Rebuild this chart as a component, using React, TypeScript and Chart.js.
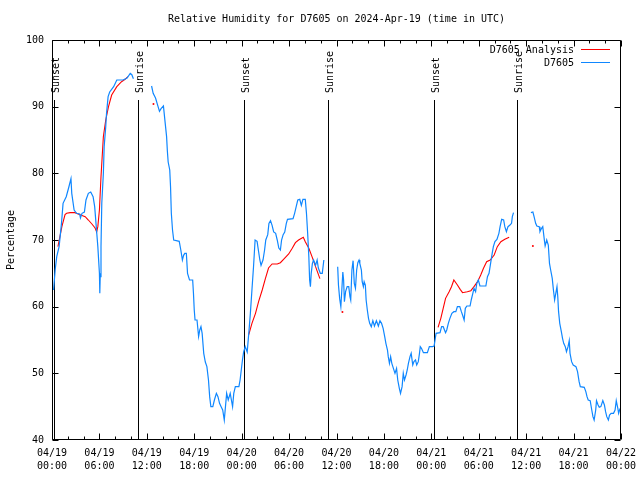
import React, { useEffect, useRef } from "react";
import { Chart, registerables } from "chart.js";

Chart.register(...registerables);

const chartTitle = "Relative Humidity for D7605 on 2024-Apr-19 (time in UTC)";
const yAxisTitle = "Percentage";
const obsLabel = "D7605";
const anaLabel = "D7605 Analysis";

// hours since 04/19 00:00 UTC
const obsHours = [
  0.2, 0.4, 0.6, 0.9, 1.2, 1.4, 1.8, 2.1, 2.4, 2.5, 2.8, 3.1, 3.5, 3.6, 3.8, 4.1, 4.3, 4.6, 4.9, 5.2,
  5.4, 5.6, 5.8, 6.0, 6.05, 6.1, 6.2, 6.3, 6.5, 6.6, 6.8, 6.9, 7.1, 7.3, 7.8, 8.2, 8.6, 9.0, 9.5, 9.9,
  10.1, 10.3,
  11.5,
  12.6, 12.8, 13.1, 13.3, 13.6, 13.8, 14.1, 14.3, 14.5, 14.6,
  14.7, 14.9, 15.0, 15.1, 15.25, 15.4, 16.1, 16.3, 16.5, 16.65,
  16.8, 17.0, 17.15, 17.4, 17.8, 17.9, 18.0, 18.1, 18.35, 18.55,
  18.7, 18.85, 19.0, 19.2, 19.4, 19.6, 19.8, 19.95, 20.1, 20.35,
  20.55, 20.8, 21.0, 21.2, 21.4, 21.6, 21.8, 21.95, 22.1, 22.3,
  22.55, 22.7, 22.85, 23.0, 23.2, 23.65, 23.8, 23.95, 24.1, 24.25,
  24.45, 24.7, 24.9, 25.1, 25.3, 25.5, 25.7, 25.95, 26.15, 26.3,
  26.45, 26.7, 26.9, 27.05, 27.3, 27.45, 27.65, 27.85, 28.05, 28.3,
  28.5, 28.7, 28.9, 29.05, 29.25, 29.45, 29.65, 29.8, 30.5, 30.7,
  30.9, 31.1, 31.35, 31.55, 31.75, 32.05, 32.2, 32.35, 32.5, 32.6,
  32.7, 32.8, 32.95, 33.1, 33.35, 33.55, 33.7, 33.95, 34.2, 34.4,
  35.3,
  36.15, 36.25, 36.4, 36.55, 36.65, 36.8, 36.9, 37.0, 37.15, 37.35,
  37.55, 37.7, 37.8, 37.95, 38.1, 38.25, 38.4, 38.55, 38.7, 38.85,
  38.95, 39.15, 39.25, 39.4, 39.5, 39.65, 39.75, 39.9, 40.05, 40.2,
  40.4, 40.6, 40.8, 41.05, 41.3, 41.5, 41.7, 41.9, 42.1, 42.25,
  42.45, 42.55, 42.7, 42.85, 43.0, 43.2, 43.4, 43.6, 43.75, 43.95,
  44.1, 44.3, 44.45, 44.6, 44.8, 44.95, 45.1, 45.3, 45.45, 45.65,
  45.8, 46.0, 46.15, 46.35, 46.5, 46.6, 46.75, 47.0, 47.5, 47.75,
  48.15, 48.35, 48.5, 48.6, 49.1, 49.3, 49.5, 49.8, 49.95, 50.15,
  50.35, 50.6, 50.85, 51.1, 51.3, 51.6, 51.8, 51.95, 52.15, 52.3,
  52.5, 52.9, 53.05, 53.25, 53.4, 53.6, 53.75, 53.95, 54.15, 54.9,
  55.1, 55.3, 55.5, 55.7, 55.85, 56.05, 56.3, 56.55, 56.7, 56.9,
  57.15, 57.3, 57.5, 57.7, 57.95, 58.15, 58.25, 58.4,
  59.5,
  60.6, 60.85, 61.0, 61.2, 61.35, 61.65, 61.75, 61.95, 62.1, 62.3,
  62.4, 62.6, 62.8, 62.95, 63.1, 63.3, 63.45, 63.6, 63.75, 63.9,
  64.0, 64.1, 64.25, 64.45, 64.6, 64.75, 64.95, 65.1, 65.3, 65.45,
  65.55, 65.75, 65.95, 66.3, 66.5, 66.7, 66.85, 67.35, 67.55, 67.7,
  67.85, 68.1, 68.3, 68.45, 68.6, 68.8, 68.9, 69.1, 69.25, 69.45,
  69.7, 69.9, 70.05, 70.2, 70.4, 70.55, 70.75, 71.05, 71.25, 71.4,
  71.6, 71.7, 71.85, 72.0,
];

const obsValues: (number | null)[] = [
  62.5, 65.5, 67.5, 69, 72.5, 75.5, 76.5, 77.8, 79.2, 77, 74.5, 74, 73.9, 73.3, 74, 74.2, 76, 77, 77.2, 76.5,
  75, 72, 69, 65, 62, 64.5, 69, 75.5, 80, 84, 87, 89, 91.5, 92.2, 93, 94, 94, 94, 94.3, 95,
  94.8, 94.2,
  null,
  93.1, 92, 91.3, 90.5, 89.3, 89.7, 90.1, 87.8, 85.5, 83.3,
  81.7, 80.5, 78, 74, 71.5, 70, 69.8, 68.5, 67, 67.7,
  68, 68, 65, 64, 64, 62, 59.5, 58, 58, 55.5,
  56.5, 57, 56, 53, 51.7, 51, 49, 46.5, 45, 45,
  46, 47, 46.5, 45.5, 45, 44.5, 43, 45, 47, 46,
  47, 46, 45, 47, 48, 48, 49, 50.5, 52, 53.2,
  54, 53.2, 56, 59, 62.5, 66, 70, 69.8, 68.2, 67,
  66.2, 67, 68.5, 70, 70.8, 72.5, 72.9, 72.2, 71.2, 71,
  70, 68.8, 68.5, 70, 70.8, 71.2, 72.5, 73.1, 73.2, 74,
  75, 76, 76.1, 75.2, 76.1, 76.1, 74, 71, 67.5, 64,
  63, 65, 66.5, 67, 66.2, 67, 65.8, 65, 65, 67,
  null,
  66, 63.2, 61.2, 60, 62, 65.2, 64, 60.75, 62.25, 63,
  63, 61.5, 61, 65.5, 66.9, 63.5, 62.75, 65.5, 66.6, 67,
  66.5, 65.5, 63.75, 63, 63.75, 63.25, 61, 59.5, 58.25, 57.5,
  57, 57.9, 57.1, 57.9, 57.1, 57.9, 57.5, 56.75, 55.5, 54.5,
  53.5, 52.5, 51.5, 52.5, 51.5, 50.75, 50, 50.75, 49, 47.75,
  47, 48, 50, 49, 49.75, 50.5, 51.5, 52.5, 53, 51.25,
  51.75, 52, 51.25, 51.75, 53, 54, 53.75, 53.1, 53.1, 54,
  54, 54.1, 55.25, 56, 56.1, 57, 57, 56.1, 56.5, 57.5,
  58.25, 59, 59.25, 59.25, 60, 60, 59.25, 58.75, 58, 59.75,
  60.1, 60.1, 61, 62, 62.75, 62.25, 63.5, 64, 63.1, 63.1,
  64.5, 65, 66.5, 68, 69, 69.75, 70.1, 71, 72, 73.1,
  73, 72, 71.25, 72, 72.25, 72.5, 73.5, 74.1,
  null,
  74.1, 74.2, 73.5, 72.5, 72.1, 72, 71.25, 71.75, 72, 70,
  69.1, 70, 69.25, 66.5, 65.5, 64.25, 62.5, 61, 62, 63,
  61.5, 59.25, 57.5, 56.25, 55.25, 54.5, 54, 53.25, 54, 54.9,
  53, 51.75, 51.25, 51, 50.25, 48.75, 48, 47.9, 47.25, 46.5,
  46, 45.9, 44.5, 43.5, 43, 44.5, 45.9, 45.25, 44.9, 45,
  45.9, 45.25, 44.25, 43.5, 43, 43.75, 44, 44, 44.5, 45.9,
  44.75, 44, 44.6, 44.9,
];

const anaHours = [
  0.75, 1.25, 1.65, 1.85, 2.3, 2.9, 3.55, 4.2, 4.6, 5.05, 5.45, 5.65, 5.8, 6.0, 6.2, 6.5, 6.8, 7.15,
  7.55, 8.2, 8.8, 9.25, 9.6,
  11.0, 12.84, 14.0,
  24.9, 25.3, 25.75, 26.15, 26.6, 27.0, 27.4, 27.85, 28.5, 28.9, 29.3, 29.95, 30.4, 30.8, 31.2, 31.8,
  32.05, 32.5, 32.9, 33.35, 33.9,
  35.5, 36.75, 38.0,
  48.85, 49.2, 49.5, 49.8, 50.25, 50.55, 50.85, 51.3, 51.65, 51.95, 52.55, 53.0, 53.4, 53.85, 54.25,
  54.6, 55.0, 55.45, 55.95, 56.35, 56.8, 57.3, 57.85,
  59.5, 60.85,
];

const anaValues: (number | null)[] = [
  69, 72, 73.8, 74, 74.1, 74.1, 73.8, 73.5, 73, 72.4, 71.8, 71.2, 72, 74.5, 79.5, 85.5, 88, 90,
  91.75, 93, 93.75, 94.1, 94.5,
  null, 90.4, null,
  55.8, 57.5, 59, 60.8, 62.5, 64.2, 65.8, 66.4, 66.4, 66.6, 67.1, 67.9, 68.75, 69.6, 70, 70.4,
  69.75, 68.75, 67.5, 66, 64.2,
  null, 59.2, null,
  56.9, 58.25, 59.75, 61.25, 62.25, 63, 64, 63.25, 62.6, 62.1, 62.25, 62.4, 63, 63.75, 64.75,
  65.75, 66.75, 67, 67.75, 69, 69.75, 70.1, 70.4,
  null, 69.1,
];

const sunHours = [0.19, 10.87, 24.29, 34.93, 48.36, 58.87];
const sunLabels = ["Sunset", "Sunrise", "Sunset", "Sunrise", "Sunset", "Sunrise"];

const xTickHours = [0, 6, 12, 18, 24, 30, 36, 42, 48, 54, 60, 66, 72];
const xTickLabels = [
  "04/19\n00:00", "04/19\n06:00", "04/19\n12:00", "04/19\n18:00",
  "04/20\n00:00", "04/20\n06:00", "04/20\n12:00", "04/20\n18:00",
  "04/21\n00:00", "04/21\n06:00", "04/21\n12:00", "04/21\n18:00",
  "04/22\n00:00",
];

const FONT = '"DejaVu Sans Mono", "Liberation Mono", monospace';
const RED = "#ff0000";
const BLUE = "#0f87ff";

export default function App() {
  const ref = useRef<HTMLCanvasElement>(null);

  useEffect(() => {
    const canvas = ref.current;
    if (!canvas) return;
    const obsData = obsHours.map((h, i) => ({ x: h, y: obsValues[i] }));
    const anaData = anaHours.map((h, i) => ({ x: h, y: anaValues[i] }));

    const isolated = (ctx: any) => {
      const d = ctx.dataset.data as any[];
      const i = ctx.dataIndex;
      const cur = d[i];
      if (!cur || cur.y == null) return 0;
      const prev = d[i - 1];
      const next = d[i + 1];
      const pn = !prev || prev.y == null;
      const nn = !next || next.y == null;
      return pn && nn ? 1 : 0;
    };

    const overlay = {
      id: "overlay",
      beforeDatasetsDraw(chart: any) {
        const { ctx, chartArea, scales } = chart;
        const xs = scales.x;
        const ys = scales.y;
        ctx.save();
        ctx.strokeStyle = "#000";
        ctx.lineWidth = 1;
        ctx.fillStyle = "#000";
        ctx.font = `10px ${FONT}`;
        sunHours.forEach((h, i) => {
          const x = Math.round(xs.getPixelForValue(h)) + 0.5;
          const yTop = Math.round(ys.getPixelForValue(91));
          ctx.beginPath();
          ctx.moveTo(x, yTop);
          ctx.lineTo(x, chartArea.bottom);
          ctx.stroke();
          ctx.save();
          ctx.translate(x + 1.5, yTop - 7);
          ctx.rotate(-Math.PI / 2);
          ctx.textAlign = "left";
          ctx.textBaseline = "middle";
          ctx.fillText(sunLabels[i], 0, 0);
          ctx.restore();
        });
        ctx.restore();
      },
      afterDraw(chart: any) {
        const { ctx, chartArea, scales } = chart;
        const xs = scales.x;
        const ys = scales.y;
        const L = chartArea.left + 0.5;
        const R = chartArea.right - 0.5;
        const T = chartArea.top + 0.5;
        const B = chartArea.bottom - 0.5;
        ctx.save();
        ctx.strokeStyle = "#000";
        ctx.lineWidth = 1;
        ctx.beginPath();
        ctx.rect(L, T, R - L, B - T);
        for (let v = 40; v <= 100; v += 10) {
          const y = Math.round(ys.getPixelForValue(v)) + 0.5;
          ctx.moveTo(L, y);
          ctx.lineTo(L + 6, y);
          ctx.moveTo(R, y);
          ctx.lineTo(R - 6, y);
        }
        for (let h = 0; h <= 72; h += 2) {
          const x = Math.round(xs.getPixelForValue(h)) + 0.5;
          const len = h % 6 === 0 ? 6 : 3;
          ctx.moveTo(x, B);
          ctx.lineTo(x, B - len);
          ctx.moveTo(x, T);
          ctx.lineTo(x, T + len);
        }
        ctx.stroke();

        ctx.fillStyle = "#000";
        ctx.font = `10px ${FONT}`;
        ctx.textBaseline = "middle";
        ctx.textAlign = "center";
        ctx.fillText(chartTitle, (chartArea.left + chartArea.right) / 2, 19);

        ctx.save();
        ctx.translate(11, 240);
        ctx.rotate(-Math.PI / 2);
        ctx.textAlign = "center";
        ctx.fillText(yAxisTitle, 0, 0);
        ctx.restore();

        ctx.textAlign = "right";
        ctx.fillText(anaLabel, 574, 50);
        ctx.fillText(obsLabel, 574, 63);
        ctx.beginPath();
        ctx.strokeStyle = RED;
        ctx.moveTo(581, 49.5);
        ctx.lineTo(610, 49.5);
        ctx.stroke();
        ctx.beginPath();
        ctx.strokeStyle = BLUE;
        ctx.moveTo(581, 62.5);
        ctx.lineTo(610, 62.5);
        ctx.stroke();
        ctx.restore();
      },
    };

    const tickFont = { family: FONT, size: 10, lineHeight: 1.3 };
    const zeroPad = (s: any) => {
      s.paddingLeft = 0;
      s.paddingRight = 0;
      s.paddingTop = 0;
      s.paddingBottom = 0;
    };

    const chart = new Chart(canvas, {
      type: "line",
      data: {
        datasets: [
          {
            label: obsLabel,
            data: obsData as any,
            borderColor: BLUE,
            backgroundColor: BLUE,
            borderWidth: 1.2,
            pointRadius: 0,
            tension: 0,
            spanGaps: false,
            order: 0,
          },
          {
            label: anaLabel,
            data: anaData as any,
            borderColor: RED,
            backgroundColor: RED,
            borderWidth: 1.1,
            pointRadius: isolated as any,
            pointBorderWidth: 0,
            pointBackgroundColor: RED,
            tension: 0,
            spanGaps: false,
            order: 1,
          },
        ],
      },
      options: {
        animation: false,
        responsive: false,
        events: [],
        layout: { padding: { top: 40, right: 19, left: 0, bottom: 0 } },
        plugins: {
          legend: { display: false },
          tooltip: { enabled: false },
          title: { display: false },
        },
        scales: {
          x: {
            type: "linear",
            min: 0,
            max: 72,
            grid: { display: false, drawTicks: false },
            border: { display: false },
            afterFit: (s: any) => {
              s.height = 40;
              zeroPad(s);
            },
            ticks: {
              stepSize: 6,
              autoSkip: false,
              maxRotation: 0,
              minRotation: 0,
              padding: 6.5,
              color: "#000",
              font: tickFont,
              callback: (v: any) => {
                const i = xTickHours.indexOf(Number(v));
                return i >= 0 ? xTickLabels[i].split("\n") : "";
              },
            },
          },
          y: {
            type: "linear",
            min: 40,
            max: 100,
            grid: { display: false, drawTicks: false },
            border: { display: false },
            afterFit: (s: any) => {
              s.width = 52;
              zeroPad(s);
            },
            ticks: {
              stepSize: 10,
              padding: 8,
              color: "#000",
              font: { family: FONT, size: 10 },
            },
          },
        },
      },
      plugins: [overlay],
    });
    return () => chart.destroy();
  }, []);

  return (
    <div style={{ position: "absolute", left: 0, top: 0, width: 640, height: 480, background: "#fff" }}>
      <canvas ref={ref} width={640} height={480} style={{ display: "block" }} />
    </div>
  );
}
